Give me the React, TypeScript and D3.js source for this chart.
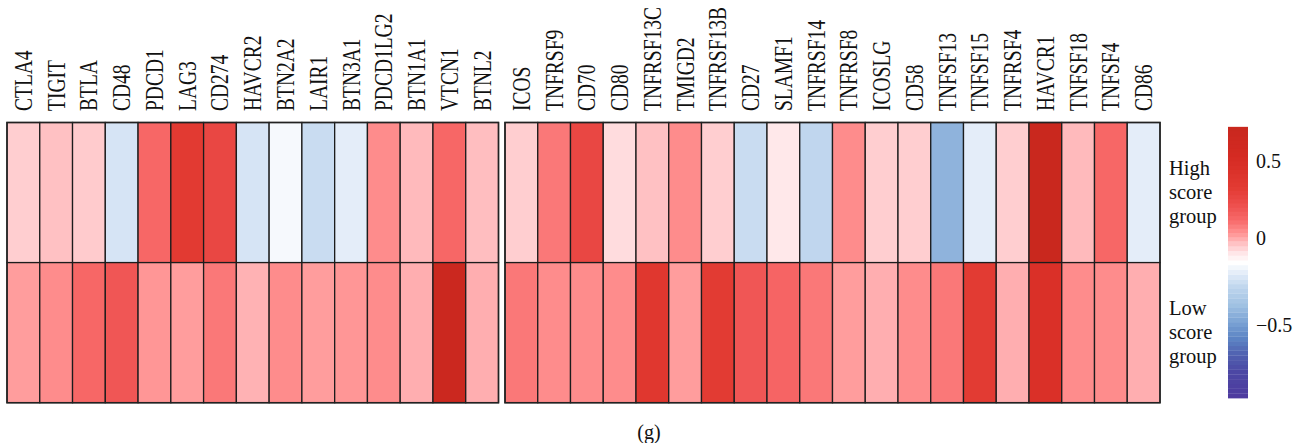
import React from 'react';
import * as d3 from 'd3';

// Immune checkpoint genes, first panel
const leftGenes = ['CTLA4', 'TIGIT', 'BTLA', 'CD48', 'PDCD1', 'LAG3', 'CD274', 'HAVCR2', 'BTN2A2', 'LAIR1', 'BTN3A1', 'PDCD1LG2', 'BTN1A1', 'VTCN1', 'BTNL2'];
const leftHigh = [-0.05, -0.03, -0.045, -0.23, 0.13, 0.34, 0.26, -0.23, -0.16, -0.26, -0.2, 0.05, -0.02, 0.13, -0.025];
const leftLow = [0.02, 0.05, 0.13, 0.19, 0.03, 0.02, 0.09, -0.01, 0.05, 0.02, 0.03, 0.05, -0.005, 0.68, -0.005];

// Co-stimulatory genes, second panel
const rightGenes = ['ICOS', 'TNFRSF9', 'CD70', 'CD80', 'TNFRSF13C', 'TMIGD2', 'TNFRSF13B', 'CD27', 'SLAMF1', 'TNFRSF14', 'TNFRSF8', 'ICOSLG', 'CD58', 'TNFSF13', 'TNFSF15', 'TNFRSF4', 'HAVCR1', 'TNFSF18', 'TNFSF4', 'CD86'];
const rightHigh = [-0.05, 0.09, 0.26, -0.07, -0.03, 0.05, -0.05, -0.26, -0.09, -0.28, 0.05, -0.05, -0.05, -0.43, -0.2, -0.05, 0.7, -0.02, 0.13, -0.2];
const rightLow = [0.09, 0.05, 0.05, 0.05, 0.37, 0.02, 0.33, 0.19, 0.14, 0.09, 0.02, -0.005, 0.05, 0.09, 0.33, -0.005, 0.46, 0.05, 0.05, -0.005];

const groups = ['High', 'Low'];
const groupLabels = [['High', 'score', 'group'], ['Low', 'score', 'group']];
const legendTicks = [0.5, 0, -0.5];
const valueMin = -0.92;
const valueMax = 0.72;

// Colour ramp along the legend bar (0 = bottom, 1 = top)
const rampStops = [0, 0.1, 0.16, 0.22, 0.28, 0.34, 0.41, 0.455, 0.5, 0.535, 0.572, 0.609, 0.657, 0.72, 0.78, 0.9, 1];
const rampColors = ['#4e3a9f', '#4c48a4', '#5060b0', '#5c84c4', '#7aa2d4', '#9ec0e2', '#c0d6ee', '#dfeaf8', '#ffffff', '#ffe6e8', '#ffc0c2', '#ff9494', '#f86a6a', '#ec4c4a', '#e23a32', '#d42a22', '#c8281e'];

const FONT = '"Liberation Serif", "Times New Roman", serif';

export default function App() {
  const W = 1303;
  const H = 443;
  const top = 122.5;
  const bottom = 402.7;

  const pos = d3.scaleLinear().domain([valueMin, 0, valueMax]).range([0, 0.59, 1]);
  const ramp = d3.scaleLinear<string>().domain(rampStops).range(rampColors).interpolate(d3.interpolateRgb);
  const color = (v: number) => ramp(pos(v));

  const y = d3.scaleBand<string>().domain(groups).range([top, bottom]);
  const xLeft = d3.scaleBand<string>().domain(leftGenes).range([7, 498.5]);
  const xRight = d3.scaleBand<string>().domain(rightGenes).range([505, 1160]);

  const panels = [
    { genes: leftGenes, rows: [leftHigh, leftLow], x: xLeft },
    { genes: rightGenes, rows: [rightHigh, rightLow], x: xRight },
  ];

  // Legend bar
  const barX = 1228;
  const barW = 20;
  const legendY = d3.scaleLinear().domain([valueMin, 0, valueMax]).range([398, 238, 127]);
  const nBands = 60;
  const bandVals = d3.range(nBands).map((i) => valueMin + ((i + 0.5) * (valueMax - valueMin)) / nBands);
  const bandH = (legendY(valueMin) - legendY(valueMax)) / nBands;

  return (
    <svg width={W} height={H} style={{ position: 'absolute', left: 0, top: 0, background: '#fff' }} fontFamily={FONT}>
      {panels.map((p, pi) => (
        <g key={pi}>
          {p.rows.map((row, ri) =>
            row.map((v, ci) => (
              <rect
                key={`${ri}-${ci}`}
                x={p.x(p.genes[ci])}
                y={y(groups[ri])}
                width={p.x.bandwidth()}
                height={y.bandwidth()}
                fill={color(v)}
                stroke="#1c1c1c"
                strokeWidth={1.3}
              />
            ))
          )}
          <rect
            x={p.x.range()[0]}
            y={top}
            width={p.x.range()[1] - p.x.range()[0]}
            height={bottom - top}
            fill="none"
            stroke="#222"
            strokeWidth={1.5}
          />
          {p.genes.map((g) => {
            const cx = (p.x(g) as number) + p.x.bandwidth() / 2;
            return (
              <text
                key={g}
                transform={`translate(${cx + 8.5},111) rotate(-90) scale(1,1.28)`}
                fontSize={19.5}
                fill="#111"
              >
                {g}
              </text>
            );
          })}
        </g>
      ))}

      {groupLabels.map((lines, gi) => {
        const cy = (y(groups[gi]) as number) + y.bandwidth() / 2;
        return (
          <text key={gi} x={1169} fontSize={20.5} fill="#111">
            {lines.map((l, li) => (
              <tspan key={li} x={1169} y={cy + (li - 1) * 24 + 6}>
                {l}
              </tspan>
            ))}
          </text>
        );
      })}

      <g>
        {bandVals.map((v, i) => (
          <rect
            key={i}
            x={barX}
            y={legendY(v) - bandH / 2}
            width={barW}
            height={bandH + 0.5}
            fill={color(v)}
          />
        ))}
        {legendTicks.map((t) => (
          <text key={t} x={1256} y={legendY(t)} dy="0.35em" fontSize={20} fill="#111">
            {t < 0 ? `\u2212${Math.abs(t)}` : `${t}`}
          </text>
        ))}
      </g>

      <text x={649} y={439} textAnchor="middle" fontSize={20} fill="#111">
        (g)
      </text>
    </svg>
  );
}
